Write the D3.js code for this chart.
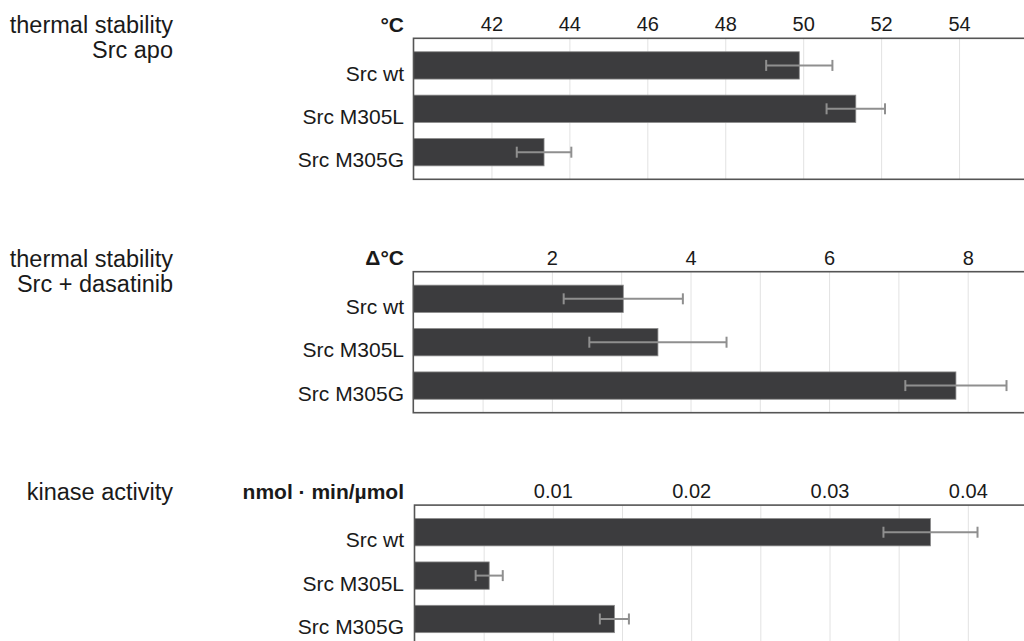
<!DOCTYPE html>
<html>
  <head>
    <meta charset="utf-8">
    <title>Src stability and activity</title>
    <script src="https://d3js.org/d3.v7.min.js"></script>
    <style>
      body { margin: 0; background: #fff; }
      svg text { font-family: "Liberation Sans", Arial, Helvetica, sans-serif; fill: #1a1a1a; }
    </style>
  </head>
  <body>
    <svg width="1024" height="641"></svg>
  </body>
  <script type="text/javascript">
    // data
    const categories = ["Src wt", "Src M305L", "Src M305G"];

    const apoValues = [49.9, 51.35, 43.35];
    const apoErrors = [0.85, 0.75, 0.7];
    const apoTicks = [42, 44, 46, 48, 50, 52, 54];
    const apoGrid = [42, 44, 46, 48, 50, 52, 54];

    const dasValues = [3.03, 3.53, 7.83];
    const dasErrors = [0.86, 0.99, 0.73];
    const dasTicks = [2, 4, 6, 8];
    const dasGrid = [1, 2, 3, 4, 5, 6, 7, 8];

    const kinValues = [0.0373, 0.0054, 0.01445];
    const kinErrors = [0.0034, 0.00098, 0.00105];
    const kinTicks = [0.01, 0.02, 0.03, 0.04];
    const kinGrid = [0.005, 0.01, 0.015, 0.02, 0.025, 0.03, 0.035, 0.04];

    const panels = [
      {title: ["thermal stability", "Src apo"], unit: "°C", domain: [40, 56],
       values: apoValues, errors: apoErrors, ticks: apoTicks, grid: apoGrid, fmt: d3.format("d"), left: 413.5},
      {title: ["thermal stability", "Src + dasatinib"], unit: "Δ°C", domain: [0, 9],
       values: dasValues, errors: dasErrors, ticks: dasTicks, grid: dasGrid, fmt: d3.format("d"), left: 413.3},
      {title: ["kinase activity"], unit: "nmol · min/µmol", domain: [0, 0.045],
       values: kinValues, errors: kinErrors, ticks: kinTicks, grid: kinGrid, fmt: d3.format(".2f"), left: 414.5}
    ];

    const svg = d3.select("svg");
    const boxH = 141, right = 1037, panelStep = 233.4;

    panels.forEach(function(p, i) {
      const top = 38.3 + i * panelStep;
      const g = svg.append("g");

      const x = d3.scaleLinear().domain(p.domain).range([p.left, right]);
      const y = d3.scaleBand().domain(categories).range([top, top + boxH])
        .paddingInner(0.37).paddingOuter(0.31);

      // title on the far left
      g.append("text")
        .attr("text-anchor", "end")
        .style("font-size", "23.5px")
        .selectAll("tspan")
        .data(p.title)
        .enter().append("tspan")
          .attr("x", 173)
          .attr("y", function(d, j) { return top - 5 + j * 25; })
          .text(function(d) { return d; });

      // unit label
      g.append("text")
        .attr("x", 404)
        .attr("y", top - 6.5)
        .attr("text-anchor", "end")
        .style("font-size", "21px")
        .style("font-weight", "bold")
        .text(p.unit);

      // grid lines
      g.append("g")
        .attr("transform", "translate(0," + top + ")")
        .call(d3.axisTop(x).tickValues(p.grid).tickSize(-boxH).tickFormat(""))
        .call(function(a) {
          a.select(".domain").remove();
          a.selectAll("line").attr("stroke", "#e2e2e2").attr("stroke-width", 1);
        });

      // tick labels
      g.append("g")
        .attr("transform", "translate(0," + top + ")")
        .call(d3.axisTop(x).tickValues(p.ticks).tickSize(0).tickPadding(7).tickFormat(p.fmt))
        .call(function(a) {
          a.select(".domain").remove();
          a.selectAll("text")
            .style("font-size", "20px")
            .style("font-family", "\"Liberation Sans\", Arial, Helvetica, sans-serif")
            .attr("fill", "#1a1a1a");
        });

      // bars
      g.selectAll("rect.bar")
        .data(p.values)
        .enter().append("rect")
          .attr("class", "bar")
          .attr("x", x(p.domain[0]))
          .attr("y", function(d, j) { return y(categories[j]); })
          .attr("width", function(d) { return x(d) - x(p.domain[0]); })
          .attr("height", y.bandwidth())
          .attr("fill", "#3c3c3e")
          .attr("stroke", "#8a8a8a")
          .attr("stroke-width", 0.8);

      // error bars
      const err = g.selectAll("g.err")
        .data(p.values)
        .enter().append("g")
          .attr("class", "err")
          .attr("stroke", "#8f8f8f")
          .attr("stroke-width", 2);
      err.append("line")
        .attr("x1", function(d, j) { return x(d - p.errors[j]); })
        .attr("x2", function(d, j) { return x(d + p.errors[j]); })
        .attr("y1", function(d, j) { return y(categories[j]) + y.bandwidth() / 2; })
        .attr("y2", function(d, j) { return y(categories[j]) + y.bandwidth() / 2; });
      [-1, 1].forEach(function(s) {
        err.append("line")
          .attr("x1", function(d, j) { return x(d + s * p.errors[j]); })
          .attr("x2", function(d, j) { return x(d + s * p.errors[j]); })
          .attr("y1", function(d, j) { return y(categories[j]) + y.bandwidth() / 2 - 5.5; })
          .attr("y2", function(d, j) { return y(categories[j]) + y.bandwidth() / 2 + 5.5; });
      });

      // category labels
      g.selectAll("text.cat")
        .data(categories)
        .enter().append("text")
          .attr("class", "cat")
          .attr("x", 404)
          .attr("y", function(d) { return y(d) + y.bandwidth() + 1.5; })
          .attr("text-anchor", "end")
          .style("font-size", "21px")
          .text(function(d) { return d; });

      // frame
      g.append("rect")
        .attr("x", p.left)
        .attr("y", top)
        .attr("width", right - p.left)
        .attr("height", boxH)
        .attr("fill", "none")
        .attr("stroke", "#555")
        .attr("stroke-width", 1.6);
    });
  </script>
</html>
